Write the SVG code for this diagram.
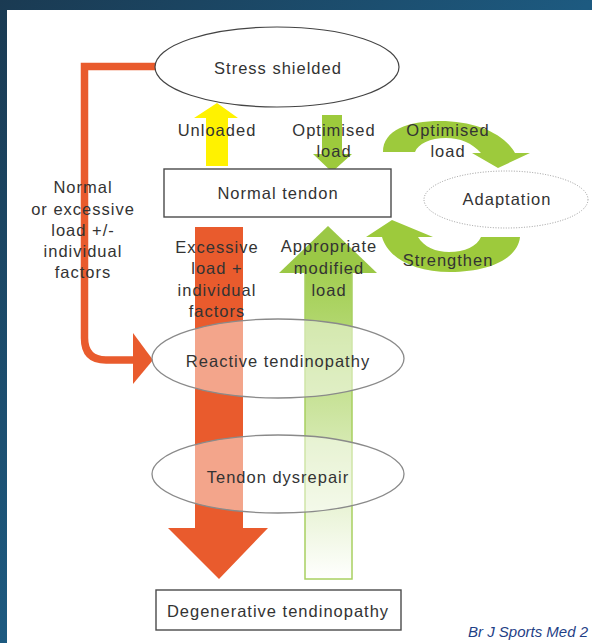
<svg xmlns="http://www.w3.org/2000/svg" width="592" height="643" viewBox="0 0 592 643">
  <defs>
    <linearGradient id="frameGrad" x1="0" y1="0" x2="1" y2="1">
      <stop offset="0" stop-color="#1a3a52"/>
      <stop offset="0.5" stop-color="#1d5a80"/>
      <stop offset="1" stop-color="#1b4260"/>
    </linearGradient>
    <linearGradient id="recoveryGrad" gradientUnits="userSpaceOnUse" x1="0" y1="226" x2="0" y2="580">
      <stop offset="0" stop-color="#99c73f"/>
      <stop offset="0.2" stop-color="#a9d25e"/>
      <stop offset="1" stop-color="#ffffff"/>
    </linearGradient>
    <style>
      .lbl { font-family: "Liberation Sans", Arial, sans-serif; font-size: 16.5px; letter-spacing: 1px; fill: #333; text-anchor: middle; }
      .state { fill: #ffffff; fill-opacity: 0.45; stroke: #8a8a8a; stroke-width: 1.3; }
      .box { fill: #ffffff; stroke: #4a4a4a; stroke-width: 1.4; }
      .green { fill: #9dca3c; }
    </style>
  </defs>

  <!-- page frame -->
  <rect x="0" y="0" width="592" height="643" fill="url(#frameGrad)"/>
  <rect x="7" y="10" width="585" height="633" fill="#ffffff"/>

  <!-- connectors -->
  <g id="connectors">
    <!-- bent orange route from stress shielded to reactive tendinopathy -->
    <path d="M156,66.5 H84.5 V338 Q84.5 360 106 360 H136" fill="none" stroke="#e95b2d" stroke-width="7.5"/>
    <polygon points="133,333 153,360 133,384" fill="#e95b2d"/>
    <!-- unloaded (yellow, up) -->
    <polygon points="206,166 206,118 194,118 217,103 238,118 228,118 228,166" fill="#fff200"/>
    <!-- optimised load (green, down) -->
    <polygon points="322,115 342,115 342,154 352,154 332,172 313,154 322,154" class="green"/>
    <!-- optimised load towards adaptation (curved) -->
    <path d="M383,152 C383,130 408,121 440,121 C474,121 504,133 515,153 L530,153 L498,168 L472,153 L481,153 C472,143 460,138 446,138 C430,138 418,144 415,152 Z" class="green"/>
    <!-- strengthen back to normal tendon (curved) -->
    <path d="M382,237 L366,237 L392,220 L433,237 L418,237 C424,247 436,252 449,252 C465,252 477,246 481,237 L520,237 C518,258 490,272 450,272 C414,272 388,258 382,237 Z" class="green"/>
    <!-- excessive load (orange, down) -->
    <polygon points="195,227 243,227 243,528 268,528 219,579 168,528 195,528" fill="#e95b2d"/>
    <!-- appropriate modified load (green, up) -->
    <rect x="305" y="273" width="47" height="306" fill="url(#recoveryGrad)" stroke="#a8d060" stroke-width="1.5"/>
    <polygon points="279,273 328,226 377,273" fill="#9bc846"/>
  </g>

  <!-- nodes -->
  <g id="stress-shielded">
    <ellipse cx="277" cy="67" rx="122" ry="40" fill="#ffffff" stroke="#444" stroke-width="1.2"/>
    <text class="lbl" x="278" y="74">Stress shielded</text>
  </g>

  <g id="normal-tendon">
    <rect x="164" y="169" width="227" height="48" class="box"/>
    <text class="lbl" x="278" y="199">Normal tendon</text>
  </g>

  <g id="adaptation">
    <ellipse cx="506" cy="199.5" rx="82" ry="28.5" fill="none" stroke="#9a9a9a" stroke-width="1" stroke-dasharray="1 1.6"/>
    <text class="lbl" x="507" y="205">Adaptation</text>
  </g>

  <g id="reactive-tendinopathy">
    <ellipse cx="278" cy="358.5" rx="126" ry="39.5" class="state"/>
    <text class="lbl" x="278" y="367">Reactive tendinopathy</text>
  </g>

  <g id="tendon-dysrepair">
    <ellipse cx="278" cy="474" rx="126" ry="39" class="state"/>
    <text class="lbl" x="278" y="483">Tendon dysrepair</text>
  </g>

  <g id="degenerative-tendinopathy">
    <rect x="156" y="590" width="245" height="40" class="box"/>
    <text class="lbl" x="278" y="617">Degenerative tendinopathy</text>
  </g>

  <!-- connector labels -->
  <g id="labels">
    <text class="lbl" x="83" y="193">Normal</text>
    <text class="lbl" x="83" y="214.5">or excessive</text>
    <text class="lbl" x="83" y="236">load +/-</text>
    <text class="lbl" x="83" y="257">individual</text>
    <text class="lbl" x="83" y="278">factors</text>

    <text class="lbl" x="217" y="136">Unloaded</text>

    <text class="lbl" x="334" y="136">Optimised</text>
    <text class="lbl" x="334" y="157">load</text>

    <text class="lbl" x="448" y="136">Optimised</text>
    <text class="lbl" x="448" y="157">load</text>

    <text class="lbl" x="448" y="266">Strengthen</text>

    <text class="lbl" x="217" y="253">Excessive</text>
    <text class="lbl" x="217" y="274">load +</text>
    <text class="lbl" x="217" y="296">individual</text>
    <text class="lbl" x="217" y="317">factors</text>

    <text class="lbl" x="329" y="252">Appropriate</text>
    <text class="lbl" x="329" y="274">modified</text>
    <text class="lbl" x="329" y="296">load</text>
  </g>

  <text x="468" y="637" font-family="'Liberation Sans', Arial, sans-serif" font-size="15" font-style="italic" fill="#1f3f86">Br J Sports Med 2</text>
</svg>
